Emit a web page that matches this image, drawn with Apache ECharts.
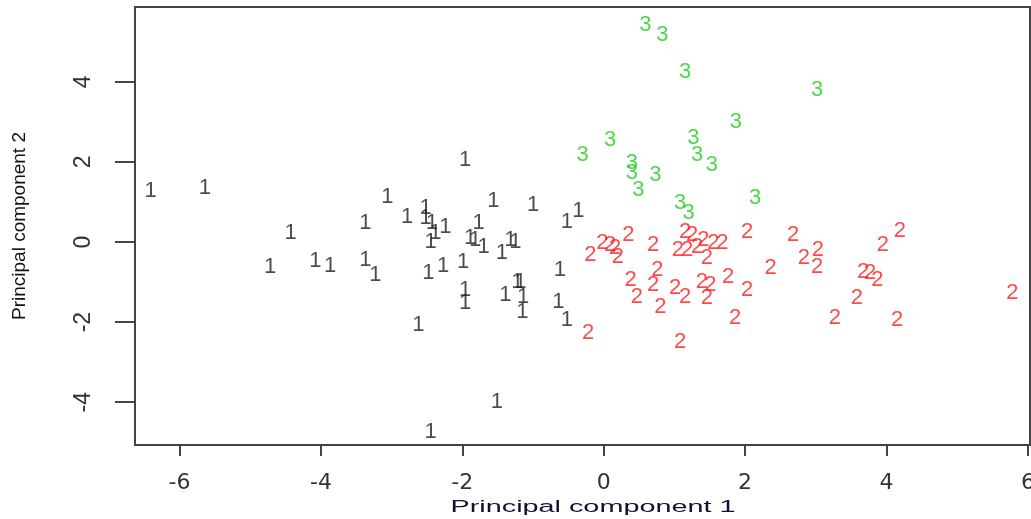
<!DOCTYPE html>
<html>
<head>
<meta charset="utf-8">
<script src="https://cdn.jsdelivr.net/npm/echarts@6/dist/echarts.min.js"></script>
<style>
html,body{margin:0;padding:0;background:#fff;}
#chart{width:1031px;height:519px;}
</style>
</head>
<body>
<div id="chart"></div>
<script>
// Cluster 1 (black "1")
const c1x = [-6.41,-5.64,-4.43,-4.72,-4.08,-3.87,-1.96,-3.06,-3.37,-2.78,-2.52,-2.52,-2.43,-2.24,-2.38,-2.45,-1.56,-1.00,-1.77,-1.89,-1.82,-1.70,-1.44,-1.32,-1.25,-0.52,-0.36,-3.37,-3.23,-2.48,-2.27,-1.99,-0.62,-1.96,-1.96,-1.39,-1.22,-1.18,-1.14,-1.15,-0.64,-0.52,-2.62,-1.51,-2.45];
const c1y = [1.28,1.35,0.22,-0.62,-0.48,-0.60,2.05,1.12,0.47,0.62,0.85,0.60,0.47,0.37,0.22,0.00,1.02,0.92,0.47,0.10,0.05,-0.12,-0.28,0.05,0.00,0.50,0.77,-0.45,-0.82,-0.78,-0.60,-0.50,-0.70,-1.20,-1.53,-1.32,-1.00,-1.00,-1.37,-1.75,-1.50,-1.95,-2.08,-4.00,-4.75];
// Cluster 2 (red "2")
const c2x = [0.35,-0.02,0.09,-0.19,0.16,0.20,0.70,1.15,1.25,1.41,1.05,1.18,1.32,1.55,1.68,1.46,2.03,0.76,0.38,0.70,0.47,1.01,1.15,1.39,1.51,1.46,1.76,2.03,0.80,1.86,-0.22,1.08,2.68,3.03,2.83,3.02,2.36,3.95,4.19,3.67,3.77,3.87,3.58,3.27,4.15,5.78];
const c2y = [0.17,-0.03,-0.08,-0.33,-0.15,-0.37,-0.08,0.25,0.17,0.05,-0.20,-0.20,-0.12,-0.03,-0.03,-0.40,0.25,-0.70,-0.95,-1.08,-1.37,-1.15,-1.37,-1.00,-1.08,-1.40,-0.87,-1.20,-1.62,-1.90,-2.28,-2.50,0.17,-0.20,-0.40,-0.62,-0.65,-0.08,0.27,-0.75,-0.78,-0.95,-1.40,-1.90,-1.95,-1.28];
// Cluster 3 (green "3")
const c3x = [0.59,0.83,1.15,3.02,1.87,0.09,1.27,-0.30,1.32,1.53,0.40,0.40,0.73,0.49,2.14,1.08,1.20];
const c3y = [5.42,5.17,4.25,3.80,3.00,2.55,2.60,2.18,2.18,1.92,1.97,1.72,1.67,1.30,1.10,0.97,0.72];
const xTicks = [-6,-4,-2,0,2,4,6];
const yTicks = [-4,-2,0,2,4];
const xTitle = 'Principal component 1';
const yTitle = 'Principal component 2';

function pts(xs, ys){ return xs.map((x,i)=>[x, ys[i]]); }
function textSeries(name, xs, ys, color){
  return {
    type:'scatter', name:name, data:pts(xs,ys),
    symbol:'circle', symbolSize:1,
    itemStyle:{color:'transparent'},
    silent:true,
    label:{show:true, position:'inside', formatter:name, color:color,
      fontFamily:'Liberation Sans', fontSize:22}
  };
}
const chart = echarts.init(document.getElementById('chart'), null, {renderer:'canvas'});
chart.setOption({
  backgroundColor:'#ffffff',
  animation:false,
  grid:{left:135, right:1, top:7, bottom:74, outerBoundsMode:'none', containLabel:false,
    show:true, borderColor:'#444', borderWidth:2, backgroundColor:'transparent'},
  xAxis:{
    type:'value', min:-6.63, max:6.03,
    axisLine:{show:false, onZero:false},
    splitLine:{show:false},
    axisTick:{show:true, length:11, customValues:xTicks, lineStyle:{color:'#444', width:2}},
    axisLabel:{customValues:xTicks, margin:27, fontFamily:'DejaVu Sans', fontSize:22, color:'#333'}
  },
  yAxis:{
    type:'value', min:-5.07, max:5.87,
    name:yTitle, nameLocation:'middle', nameGap:106, nameRotate:90,
    nameTextStyle:{fontFamily:'Liberation Sans', fontSize:19, color:'#111'},
    axisLine:{show:false, onZero:false},
    splitLine:{show:false},
    axisTick:{show:true, length:20, customValues:yTicks, lineStyle:{color:'#444', width:2}},
    axisLabel:{customValues:yTicks, rotate:90, margin:40, fontFamily:'Liberation Sans', fontSize:23, color:'#333'}
  },
  graphic:[{
    type:'text', x:593, y:508, scaleX:1.8, scaleY:1,
    style:{text:xTitle, fontFamily:'Liberation Sans', fontSize:16, fill:'#111133', align:'center', verticalAlign:'middle'}
  }],
  series:[
    textSeries('1', c1x, c1y, '#1e1e1e'),
    textSeries('2', c2x, c2y, '#ff1a1a'),
    textSeries('3', c3x, c3y, '#22cc22')
  ]
});
</script>
</body>
</html>
